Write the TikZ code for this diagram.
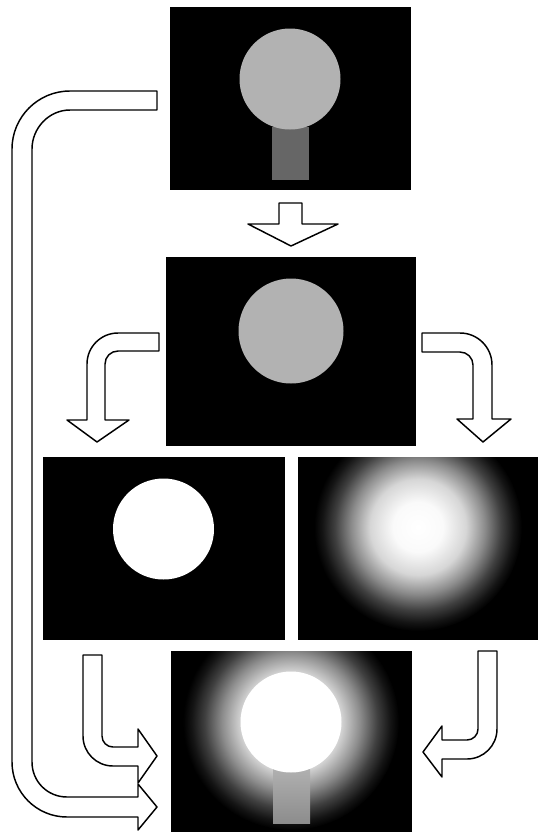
\documentclass[tikz,border=0pt]{standalone}
\usetikzlibrary{positioning}
\pgfdeclareradialshading{glow}{\pgfpoint{0bp}{0bp}}{%
  color(0bp)=(white); color(6bp)=(white!98!black); color(11.5bp)=(white!84!black);
  color(16bp)=(white!55!black); color(20bp)=(white!25!black); color(23bp)=(white!8!black); color(25bp)=(black); color(50bp)=(black)}
\definecolor{disc}{gray}{0.70}
\definecolor{stem}{gray}{0.40}
\tikzset{
  panel/.style={fill=black, draw=none, inner sep=0pt, outer sep=0pt},
  blockarrow/.style={draw=black, fill=white, line width=1.1pt, line join=round}
}
\begin{document}
\begin{tikzpicture}[x=0.75pt, y=-0.75pt]
\useasboundingbox (0,0) rectangle (538,832);
\fill[white] (0,0) rectangle (538,832);

% panels
\node[panel, minimum width=180.75pt, minimum height=137.25pt] (p1) at (290.5,98.5) {};
\node[panel, minimum width=187.5pt, minimum height=141.75pt] (p2) at (291,351.5) {};
\node[panel, minimum width=181.5pt, minimum height=137.25pt] (p3) at (164,548.5) {};
\node[panel, minimum width=180pt, minimum height=137.25pt] (p4) at (418,548.5) {};
\node[panel, minimum width=180.75pt, minimum height=135.75pt] (p5) at (291.5,741.5) {};

% panel 1 : disc and stem
\fill[stem] (272,127) rectangle (309,180);
\fill[disc] (290,79) circle (50.5);

% panel 2 : disc only
\fill[disc] (291,331) circle (52.5);

% panel 3 : white disc
\fill[white] (163.5,529) circle (50.5);

% panel 4 : glow
\begin{scope}
  \clip (298,457) rectangle (538,640);
  \shade[shading=glow] (418,527) circle (104);
\end{scope}

% panel 5 : glow + disc + stem
\begin{scope}
  \clip (171,651) rectangle (412,832);
  \shade[shading=glow] (291,722) circle (108);
  \shade[top color=white!70!black, bottom color=white!55!black] (273,765) rectangle (310,823);
  \fill[white] (291,722) circle (50.5);
\end{scope}

% arrow p1 -> p2
\draw[blockarrow] (279,203) -- (302,203) -- (302,224) -- (338,224) -- (291,246)
  -- (248,224) -- (279,224) -- cycle;

% long arrow p1 -> p5
\draw[blockarrow] (157,91) -- (70,91) .. controls (38,91) and (12,117) .. (12,149)
  -- (12,762) .. controls (12,792.4) and (36.6,817) .. (67,817)
  -- (138,817) -- (138,830) -- (157,807) -- (138,784) -- (138,797)
  -- (67,797) .. controls (47.7,797) and (32,781.7) .. (32,762)
  -- (32,149) .. controls (32,128) and (49,110) .. (70,110)
  -- (157,110) -- cycle;

% bent arrow p2 -> p3
\draw[blockarrow] (159,333) -- (118,333) .. controls (100.9,333) and (87,346.9) .. (87,364)
  -- (87,420) -- (67,420) -- (97,442) -- (129,420) -- (105,420)
  -- (105,364) .. controls (105,356.8) and (110.8,351) .. (118,351)
  -- (159,351) -- cycle;

% bent arrow p2 -> p4
\draw[blockarrow] (422,333) -- (460,333) .. controls (477.7,333) and (492,347.3) .. (492,365)
  -- (492,419) -- (511,419) -- (483,442) -- (457,419) -- (473,419)
  -- (473,365) .. controls (473,357.8) and (467.2,352) .. (460,352)
  -- (422,352) -- cycle;

% L arrow p3 -> p5
\draw[blockarrow] (83,655) -- (102,655) -- (102,736) .. controls (102,742.1) and (106.9,747) .. (113,747)
  -- (138,747) -- (138,729) -- (157,756) -- (138,783) -- (138,766)
  -- (113,766) .. controls (96.4,766) and (83,752.6) .. (83,736) -- cycle;

% J arrow p4 -> p5
\draw[blockarrow] (478,651) -- (497,651) -- (497,729) .. controls (497,745.6) and (483.6,759) .. (467,759)
  -- (442,759) -- (442,777) -- (423,752) -- (442,726) -- (442,740)
  -- (467,740) .. controls (473.1,740) and (478,735.1) .. (478,729) -- cycle;
\end{tikzpicture}
\end{document}
